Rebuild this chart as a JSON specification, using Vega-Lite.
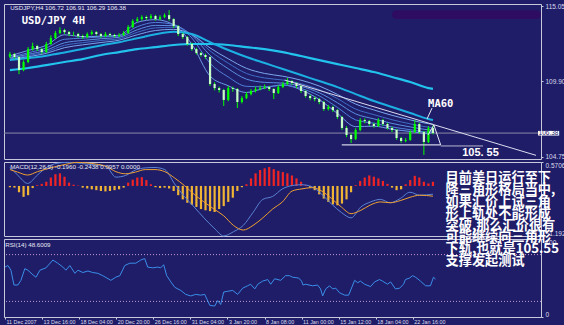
{
"$schema": "https://vega.github.io/schema/vega-lite/v6.json",
"background": "#1f1d68",
"padding": {"left": 2, "top": 2, "right": 0, "bottom": 0},
"spacing": 3,
"bounds": "flush",
"config": {
  "view": {"stroke": "#c8c8dc", "strokeWidth": 1, "fill": null},
  "axis": {"labelColor": "#dcdcec", "labelFont": "Liberation Sans", "labelFontSize": 6.5, "tickColor": "#c8c8dc", "tickSize": 2, "labelPadding": 2, "domain": false, "grid": false, "title": null}
},
"datasets": {
  "c": [
    {"i":0,"o":111.60,"h":111.92,"l":111.50,"c":111.77,"hist":-0.03},
    {"i":2,"o":111.77,"h":111.85,"l":111.45,"c":111.57,"hist":-0.04},
    {"i":4,"o":111.57,"h":111.62,"l":110.40,"c":110.68,"hist":-0.15},
    {"i":6,"o":110.68,"h":111.35,"l":110.60,"c":111.23,"hist":-0.26},
    {"i":8,"o":111.23,"h":112.25,"l":111.15,"c":112.11,"hist":-0.22},
    {"i":10,"o":112.11,"h":112.55,"l":112.00,"c":112.32,"hist":-0.05},
    {"i":12,"o":112.32,"h":112.40,"l":111.98,"c":112.11,"hist":0.02},
    {"i":14,"o":112.11,"h":112.20,"l":111.78,"c":111.91,"hist":0.05},
    {"i":16,"o":111.91,"h":112.60,"l":111.85,"c":112.46,"hist":0.10},
    {"i":18,"o":112.46,"h":113.05,"l":112.40,"c":112.87,"hist":0.20},
    {"i":20,"o":112.87,"h":113.35,"l":112.80,"c":113.21,"hist":0.28},
    {"i":22,"o":113.21,"h":113.60,"l":113.12,"c":113.41,"hist":0.30},
    {"i":24,"o":113.41,"h":113.50,"l":113.15,"c":113.27,"hist":0.22},
    {"i":26,"o":113.27,"h":113.35,"l":113.00,"c":113.14,"hist":0.08},
    {"i":28,"o":113.14,"h":113.30,"l":113.00,"c":113.14,"hist":0.03},
    {"i":30,"o":113.14,"h":113.22,"l":112.88,"c":113.00,"hist":0.01},
    {"i":32,"o":113.00,"h":113.10,"l":112.80,"c":112.93,"hist":-0.04},
    {"i":34,"o":112.93,"h":113.25,"l":112.85,"c":113.14,"hist":-0.06},
    {"i":36,"o":113.14,"h":113.40,"l":113.05,"c":113.27,"hist":-0.08},
    {"i":38,"o":113.27,"h":113.35,"l":113.02,"c":113.14,"hist":-0.10},
    {"i":40,"o":113.14,"h":113.20,"l":112.88,"c":113.00,"hist":-0.12},
    {"i":42,"o":113.00,"h":113.28,"l":112.92,"c":113.14,"hist":-0.13},
    {"i":44,"o":113.14,"h":113.22,"l":112.95,"c":113.07,"hist":-0.12},
    {"i":46,"o":113.07,"h":113.15,"l":112.90,"c":113.00,"hist":-0.10},
    {"i":48,"o":113.00,"h":113.20,"l":112.92,"c":113.07,"hist":-0.08},
    {"i":50,"o":113.07,"h":113.35,"l":113.00,"c":113.21,"hist":-0.04},
    {"i":52,"o":113.21,"h":113.75,"l":113.15,"c":113.62,"hist":0.08},
    {"i":54,"o":113.62,"h":114.15,"l":113.55,"c":114.03,"hist":0.15},
    {"i":56,"o":114.03,"h":114.30,"l":113.95,"c":114.16,"hist":0.20},
    {"i":58,"o":114.16,"h":114.42,"l":114.05,"c":114.30,"hist":0.21},
    {"i":60,"o":114.30,"h":114.40,"l":114.10,"c":114.23,"hist":0.14},
    {"i":62,"o":114.23,"h":114.50,"l":114.15,"c":114.37,"hist":0.04},
    {"i":64,"o":114.37,"h":114.45,"l":114.05,"c":114.16,"hist":-0.03},
    {"i":66,"o":114.16,"h":114.42,"l":114.08,"c":114.30,"hist":-0.05},
    {"i":68,"o":114.30,"h":114.55,"l":114.22,"c":114.43,"hist":-0.04},
    {"i":70,"o":114.43,"h":114.77,"l":114.05,"c":114.16,"hist":-0.06},
    {"i":72,"o":114.16,"h":114.22,"l":113.55,"c":113.68,"hist":-0.12},
    {"i":74,"o":113.68,"h":113.75,"l":113.00,"c":113.14,"hist":-0.22},
    {"i":76,"o":113.14,"h":113.22,"l":112.80,"c":112.93,"hist":-0.32},
    {"i":78,"o":112.93,"h":113.00,"l":112.35,"c":112.46,"hist":-0.40},
    {"i":80,"o":112.46,"h":112.55,"l":112.00,"c":112.11,"hist":-0.45},
    {"i":82,"o":112.11,"h":112.20,"l":111.75,"c":111.84,"hist":-0.50},
    {"i":84,"o":111.84,"h":111.92,"l":111.60,"c":111.71,"hist":-0.55},
    {"i":86,"o":111.71,"h":111.80,"l":111.45,"c":111.57,"hist":-0.58},
    {"i":88,"o":111.57,"h":111.62,"l":109.60,"c":109.73,"hist":-0.60},
    {"i":90,"o":109.73,"h":109.85,"l":109.30,"c":109.45,"hist":-0.62},
    {"i":92,"o":109.45,"h":109.55,"l":109.15,"c":109.32,"hist":-0.55},
    {"i":94,"o":109.32,"h":109.40,"l":108.23,"c":108.64,"hist":-0.48},
    {"i":96,"o":108.64,"h":109.60,"l":108.55,"c":109.45,"hist":-0.38},
    {"i":98,"o":109.45,"h":109.55,"l":109.20,"c":109.39,"hist":-0.28},
    {"i":100,"o":109.39,"h":109.45,"l":108.09,"c":108.50,"hist":-0.12},
    {"i":102,"o":108.50,"h":108.90,"l":108.40,"c":108.77,"hist":-0.03},
    {"i":104,"o":108.77,"h":109.18,"l":108.70,"c":109.04,"hist":0.04},
    {"i":106,"o":109.04,"h":109.38,"l":108.95,"c":109.25,"hist":0.18},
    {"i":108,"o":109.25,"h":109.55,"l":109.15,"c":109.39,"hist":0.30},
    {"i":110,"o":109.39,"h":109.62,"l":109.30,"c":109.45,"hist":0.38},
    {"i":112,"o":109.45,"h":109.70,"l":109.38,"c":109.52,"hist":0.42},
    {"i":114,"o":109.52,"h":109.60,"l":109.25,"c":109.39,"hist":0.45},
    {"i":116,"o":109.39,"h":109.45,"l":108.70,"c":109.11,"hist":0.40},
    {"i":118,"o":109.11,"h":109.65,"l":109.05,"c":109.52,"hist":0.36},
    {"i":120,"o":109.52,"h":109.88,"l":109.45,"c":109.73,"hist":0.33},
    {"i":122,"o":109.73,"h":110.14,"l":109.65,"c":109.93,"hist":0.30},
    {"i":124,"o":109.93,"h":110.00,"l":109.68,"c":109.80,"hist":0.25},
    {"i":126,"o":109.80,"h":109.85,"l":109.45,"c":109.59,"hist":0.18},
    {"i":128,"o":109.59,"h":109.65,"l":109.12,"c":109.25,"hist":0.10},
    {"i":130,"o":109.25,"h":109.30,"l":108.80,"c":108.91,"hist":0.02},
    {"i":132,"o":108.91,"h":109.00,"l":108.62,"c":108.77,"hist":-0.04},
    {"i":134,"o":108.77,"h":108.88,"l":108.55,"c":108.70,"hist":-0.10},
    {"i":136,"o":108.70,"h":108.78,"l":108.35,"c":108.50,"hist":-0.20},
    {"i":138,"o":108.50,"h":108.58,"l":107.90,"c":108.02,"hist":-0.30},
    {"i":140,"o":108.02,"h":108.30,"l":107.92,"c":108.16,"hist":-0.38},
    {"i":142,"o":108.16,"h":108.25,"l":107.82,"c":107.95,"hist":-0.44},
    {"i":144,"o":107.95,"h":108.02,"l":107.35,"c":107.48,"hist":-0.46},
    {"i":146,"o":107.48,"h":107.55,"l":106.60,"c":106.73,"hist":-0.42},
    {"i":148,"o":106.73,"h":106.85,"l":106.10,"c":106.25,"hist":-0.32},
    {"i":150,"o":106.25,"h":106.35,"l":105.70,"c":105.97,"hist":-0.15},
    {"i":152,"o":105.97,"h":106.72,"l":105.90,"c":106.59,"hist":0.02},
    {"i":154,"o":106.59,"h":107.40,"l":106.50,"c":107.27,"hist":0.12},
    {"i":156,"o":107.27,"h":107.38,"l":107.05,"c":107.20,"hist":0.20},
    {"i":158,"o":107.20,"h":107.28,"l":106.88,"c":107.00,"hist":0.25},
    {"i":160,"o":107.00,"h":107.10,"l":106.75,"c":106.86,"hist":0.22},
    {"i":162,"o":106.86,"h":107.40,"l":106.80,"c":107.27,"hist":0.18},
    {"i":164,"o":107.27,"h":107.35,"l":106.88,"c":107.00,"hist":0.12},
    {"i":166,"o":107.00,"h":107.08,"l":106.62,"c":106.73,"hist":0.05},
    {"i":168,"o":106.73,"h":106.82,"l":106.45,"c":106.59,"hist":-0.04},
    {"i":170,"o":106.59,"h":106.65,"l":105.92,"c":106.04,"hist":-0.10},
    {"i":172,"o":106.04,"h":106.12,"l":105.72,"c":105.84,"hist":-0.08},
    {"i":174,"o":105.84,"h":106.05,"l":105.75,"c":105.91,"hist":0.04},
    {"i":176,"o":105.91,"h":106.58,"l":105.85,"c":106.45,"hist":0.14},
    {"i":178,"o":106.45,"h":107.27,"l":106.38,"c":107.00,"hist":0.24},
    {"i":180,"o":107.00,"h":107.08,"l":106.32,"c":106.45,"hist":0.20},
    {"i":182,"o":106.45,"h":106.52,"l":104.89,"c":105.77,"hist":0.10},
    {"i":184,"o":105.77,"h":106.85,"l":105.70,"c":106.72,"hist":0.06},
    {"i":186,"o":106.72,"h":106.91,"l":106.29,"c":106.38,"hist":0.10}
  ],
  "ma": [
    {"i":0,"m1":111.65,"m2":111.55,"m3":111.50,"m4":111.45,"m5":111.40,"m60":111.36,"m200":110.68},
    {"i":8,"m1":112.02,"m2":111.86,"m3":111.75,"m4":111.67,"m5":111.59,"m60":111.50,"m200":110.82},
    {"i":16,"m1":112.37,"m2":112.19,"m3":112.04,"m4":111.93,"m5":111.82,"m60":111.66,"m200":111.02},
    {"i":24,"m1":113.09,"m2":112.78,"m3":112.54,"m4":112.37,"m5":112.21,"m60":111.88,"m200":111.23},
    {"i":32,"m1":112.96,"m2":112.86,"m3":112.70,"m4":112.55,"m5":112.40,"m60":112.12,"m200":111.43},
    {"i":40,"m1":112.99,"m2":112.94,"m3":112.82,"m4":112.70,"m5":112.56,"m60":112.36,"m200":111.71},
    {"i":48,"m1":113.05,"m2":113.01,"m3":112.92,"m4":112.82,"m5":112.72,"m60":112.58,"m200":111.91},
    {"i":56,"m1":113.94,"m2":113.64,"m3":113.43,"m4":113.26,"m5":113.09,"m60":112.85,"m200":112.11},
    {"i":64,"m1":114.12,"m2":113.93,"m3":113.73,"m4":113.56,"m5":113.38,"m60":113.12,"m200":112.25},
    {"i":72,"m1":113.77,"m2":113.79,"m3":113.71,"m4":113.60,"m5":113.46,"m60":113.30,"m200":112.39},
    {"i":80,"m1":112.44,"m2":112.87,"m3":113.05,"m4":113.11,"m5":113.10,"m60":113.14,"m200":112.46},
    {"i":88,"m1":110.27,"m2":111.14,"m3":111.69,"m4":111.99,"m5":112.19,"m60":112.59,"m200":112.46},
    {"i":96,"m1":109.61,"m2":110.21,"m3":110.77,"m4":111.15,"m5":111.45,"m60":112.05,"m200":112.39},
    {"i":104,"m1":109.15,"m2":109.57,"m3":110.06,"m4":110.45,"m5":110.80,"m60":111.57,"m200":112.25},
    {"i":112,"m1":109.45,"m2":109.54,"m3":109.84,"m4":110.14,"m5":110.45,"m60":111.16,"m200":112.11},
    {"i":120,"m1":109.67,"m2":109.64,"m3":109.79,"m4":110.00,"m5":110.26,"m60":110.75,"m200":111.91},
    {"i":128,"m1":109.33,"m2":109.43,"m3":109.57,"m4":109.75,"m5":109.99,"m60":110.34,"m200":111.64},
    {"i":136,"m1":108.67,"m2":108.92,"m3":109.13,"m4":109.34,"m5":109.59,"m60":109.93,"m200":111.36},
    {"i":144,"m1":107.72,"m2":108.13,"m3":108.45,"m4":108.73,"m5":109.02,"m60":109.52,"m200":111.09},
    {"i":152,"m1":106.82,"m2":107.28,"m3":107.69,"m4":108.02,"m5":108.36,"m60":109.04,"m200":110.82},
    {"i":160,"m1":106.85,"m2":107.05,"m3":107.35,"m4":107.64,"m5":107.96,"m60":108.57,"m200":110.55},
    {"i":168,"m1":106.64,"m2":106.80,"m3":107.04,"m4":107.29,"m5":107.59,"m60":108.16,"m200":110.21},
    {"i":176,"m1":106.49,"m2":106.61,"m3":106.80,"m4":107.01,"m5":107.28,"m60":107.75,"m200":109.87},
    {"i":184,"m1":106.35,"m2":106.45,"m3":106.60,"m4":106.78,"m5":107.02,"m60":107.34,"m200":109.45},
    {"i":186,"m1":106.45,"m2":106.47,"m3":106.58,"m4":106.75,"m5":106.98,"m60":107.27,"m200":109.40}
  ],
  "macd": [
    {"i":0,"m":0.44,"s":0.39},{"i":3.4,"m":0.26,"s":0.33},{"i":7.8,"m":0.06,"s":0.26},{"i":12.1,"m":0.26,"s":0.34},
    {"i":16.4,"m":0.45,"s":0.41},{"i":20.7,"m":0.54,"s":0.47},{"i":25,"m":0.56,"s":0.52},{"i":29.3,"m":0.55,"s":0.56},
    {"i":33.6,"m":0.52,"s":0.55},{"i":37.9,"m":0.50,"s":0.52},{"i":42.2,"m":0.47,"s":0.47},{"i":46.6,"m":0.21,"s":0.34},
    {"i":50.9,"m":0.25,"s":0.29},{"i":55.2,"m":0.38,"s":0.33},{"i":59.5,"m":0.43,"s":0.39},{"i":63.8,"m":0.44,"s":0.39},
    {"i":68.1,"m":0.39,"s":0.34},{"i":72.4,"m":0.05,"s":0.19},{"i":76.7,"m":-0.25,"s":0.01},{"i":81,"m":-0.50,"s":-0.20},
    {"i":85.3,"m":-0.76,"s":-0.38},{"i":89.7,"m":-1.00,"s":-0.55},{"i":94,"m":-1.19,"s":-0.71},{"i":98.3,"m":-1.09,"s":-0.94},
    {"i":102.6,"m":-0.94,"s":-1.05},{"i":106.9,"m":-0.63,"s":-0.94},{"i":111.2,"m":-0.32,"s":-0.76},{"i":115.5,"m":-0.25,"s":-0.55},
    {"i":119.8,"m":-0.07,"s":-0.38},{"i":124.1,"m":0.01,"s":-0.12},{"i":128.4,"m":0.03,"s":-0.07},{"i":132.8,"m":-0.02,"s":-0.04},
    {"i":137.1,"m":-0.20,"s":-0.12},{"i":141.4,"m":-0.43,"s":-0.30},{"i":145.7,"m":-0.63,"s":-0.50},{"i":150,"m":-0.76,"s":-0.66},
    {"i":154.3,"m":-0.50,"s":-0.58},{"i":158.6,"m":-0.38,"s":-0.45},{"i":162.9,"m":-0.32,"s":-0.38},{"i":167.2,"m":-0.40,"s":-0.40},
    {"i":171.6,"m":-0.30,"s":-0.35},{"i":175.9,"m":-0.15,"s":-0.27},{"i":180.2,"m":-0.22,"s":-0.22},{"i":186,"m":-0.196,"s":-0.244}
  ],
  "rsi": [
    {"i":0,"r":64},{"i":1.3,"r":66},{"i":2.6,"r":60},{"i":3.9,"r":41},{"i":5.6,"r":41},{"i":6.9,"r":47},{"i":8.6,"r":62},{"i":9.9,"r":60},
    {"i":12.1,"r":54},{"i":13.4,"r":51},{"i":15.1,"r":60},{"i":17.7,"r":63},{"i":20.7,"r":73},{"i":22.8,"r":69},{"i":25,"r":64},{"i":26.3,"r":60},
    {"i":28,"r":66},{"i":30.2,"r":56},{"i":31.5,"r":60},{"i":33.6,"r":57},{"i":35.8,"r":59},{"i":37.9,"r":57},{"i":40.1,"r":56},{"i":42.2,"r":53},
    {"i":45.7,"r":47},{"i":47.8,"r":51},{"i":49.6,"r":53},{"i":51.7,"r":66},{"i":53.9,"r":69},{"i":56.5,"r":69},{"i":58.6,"r":73},{"i":60.3,"r":75},
    {"i":61.6,"r":64},{"i":63.8,"r":63},{"i":65.9,"r":64},{"i":67.2,"r":63},{"i":68.5,"r":67},{"i":69.8,"r":53},{"i":71.6,"r":45},{"i":73.3,"r":38},
    {"i":75.9,"r":34},{"i":78,"r":29},{"i":80.2,"r":27},{"i":82.3,"r":29},{"i":84.5,"r":28},{"i":86.2,"r":29},{"i":88.4,"r":15},{"i":90.5,"r":14},
    {"i":91.8,"r":21},{"i":93.1,"r":16},{"i":94.4,"r":32},{"i":96.1,"r":33},{"i":98.3,"r":34},{"i":100.4,"r":29},{"i":102.6,"r":37},{"i":104.7,"r":40},
    {"i":106,"r":42},{"i":107.8,"r":36},{"i":109.1,"r":42},{"i":111.2,"r":46},{"i":113.4,"r":48},{"i":114.7,"r":42},{"i":116.4,"r":49},{"i":119,"r":47},
    {"i":121.1,"r":53},{"i":122.8,"r":53},{"i":124.1,"r":51},{"i":126.7,"r":50},{"i":128,"r":46},{"i":128.6,"r":41},{"i":129.7,"r":42},{"i":132.8,"r":40},
    {"i":134.9,"r":41},{"i":136.2,"r":36},{"i":137.1,"r":27},{"i":138.4,"r":36},{"i":140.1,"r":40},{"i":141.4,"r":36},{"i":142.7,"r":37},{"i":144.4,"r":31},
    {"i":146.6,"r":28},{"i":148.3,"r":28},{"i":150.9,"r":47},{"i":152.2,"r":44},{"i":153.4,"r":46},{"i":155.2,"r":42},{"i":157.8,"r":39},{"i":159.5,"r":45},
    {"i":161.6,"r":48},{"i":162.9,"r":46},{"i":165.1,"r":42},{"i":166.4,"r":45},{"i":168.5,"r":36},{"i":170.3,"r":37},{"i":172,"r":42},{"i":172.8,"r":48},
    {"i":174.6,"r":50},{"i":175.9,"r":53},{"i":177.2,"r":51},{"i":179.3,"r":46},{"i":181.5,"r":40},{"i":183.6,"r":40},{"i":184.9,"r":51},{"i":185.8,"r":48.6}
  ],
  "tri": [{"i":120.8,"p":110.00},{"i":231.3,"p":104.86}],
  "low1": [{"i":145.9,"p":105.57},{"i":189.4,"p":105.57}],
  "low2": [{"i":189.4,"p":105.50},{"i":208,"p":105.50}],
  "zig": [{"k":0,"i":183.8,"p":106.25},{"k":1,"i":186.4,"p":106.93},{"k":2,"i":189.4,"p":105.57}],
  "ptr": [{"i":185.6,"p":108.09},{"i":183.4,"p":107.34}]
},
"vconcat": [
  {
    "width": 537, "height": 155,
    "layer": [
      {"data": {"values": [{}]}, "mark": {"type": "rule", "color": "#8a8aa6", "strokeWidth": 1},
       "encoding": {"y": {"datum": 106.38, "type": "quantitative", "scale": {"domain": [104.61, 115.19], "nice": false, "zero": false},
         "axis": {"orient": "right", "values": [104.75, 106.0, 107.3, 108.6, 109.9, 111.15, 112.45, 113.75, 115.05], "format": ".2f"}}}},
      {"data": {"name": "ma"}, "transform": [{"fold": ["m1", "m2", "m3", "m4", "m5"], "as": ["k", "v"]}],
       "mark": {"type": "line", "strokeWidth": 1, "interpolate": "monotone"},
       "encoding": {"x": {"field": "i", "type": "quantitative", "scale": {"domain": [-0.4, 231.3], "nice": false, "zero": false}, "axis": null},
         "y": {"field": "v", "type": "quantitative"},
         "color": {"field": "k", "type": "nominal", "legend": null, "scale": {"range": ["#6f9be8", "#4f80d8", "#5b8fe0", "#3f6cc4", "#7aa6ec"]}}}},
      {"data": {"name": "ma"}, "mark": {"type": "line", "strokeWidth": 2.2, "color": "#22c4ee", "interpolate": "monotone"},
       "encoding": {"x": {"field": "i", "type": "quantitative"}, "y": {"field": "m200", "type": "quantitative"}}},
      {"data": {"name": "ma"}, "mark": {"type": "line", "strokeWidth": 2, "color": "#1cb0e2", "interpolate": "monotone"},
       "encoding": {"x": {"field": "i", "type": "quantitative"}, "y": {"field": "m60", "type": "quantitative"}}},
      {"data": {"name": "c"}, "mark": {"type": "rule", "color": "#00ff00", "strokeWidth": 1},
       "encoding": {"x": {"field": "i", "type": "quantitative"}, "y": {"field": "l", "type": "quantitative"}, "y2": {"field": "h"}}},
      {"data": {"name": "c"}, "mark": {"type": "bar", "width": 2.2},
       "encoding": {"x": {"field": "i", "type": "quantitative"}, "y": {"field": "o", "type": "quantitative"}, "y2": {"field": "c"},
         "color": {"condition": {"test": "datum.c >= datum.o", "value": "#00ff00"}, "value": "#c8ffc8"}}},
      {"data": {"name": "tri"}, "mark": {"type": "line", "color": "#dcdcf0", "strokeWidth": 1},
       "encoding": {"x": {"field": "i", "type": "quantitative"}, "y": {"field": "p", "type": "quantitative"}}},
      {"data": {"name": "low1"}, "mark": {"type": "line", "color": "#d0d0e4", "strokeWidth": 1.2},
       "encoding": {"x": {"field": "i", "type": "quantitative"}, "y": {"field": "p", "type": "quantitative"}}},
      {"data": {"name": "low2"}, "mark": {"type": "line", "color": "#b8b8d0", "strokeWidth": 1},
       "encoding": {"x": {"field": "i", "type": "quantitative"}, "y": {"field": "p", "type": "quantitative"}}},
      {"data": {"name": "zig"}, "mark": {"type": "line", "color": "#e8e8f8", "strokeWidth": 1},
       "encoding": {"x": {"field": "i", "type": "quantitative"}, "y": {"field": "p", "type": "quantitative"}, "order": {"field": "k"}}},
      {"data": {"name": "ptr"}, "mark": {"type": "line", "color": "#e8e8f8", "strokeWidth": 1},
       "encoding": {"x": {"field": "i", "type": "quantitative"}, "y": {"field": "p", "type": "quantitative"}}},
      {"data": {"values": [{}]}, "mark": {"type": "rect", "fill": "#2d0c62", "cornerRadius": 4, "clip": false},
       "encoding": {"x": {"datum": 168}, "x2": {"datum": 233.5}, "y": {"datum": 114.77}, "y2": {"datum": 114.16}}},
      {"data": {"values": [{}]}, "mark": {"type": "text", "text": "USDJPY,H4  106.72 106.91 106.29 106.38", "font": "Liberation Sans", "fontSize": 6.2, "color": "#e8e8f4", "align": "left", "baseline": "middle"},
       "encoding": {"x": {"datum": 0.1}, "y": {"datum": 114.95}}},
      {"data": {"values": [{}]}, "mark": {"type": "text", "text": "USD/JPY 4H", "font": "DejaVu Sans Mono", "fontWeight": "bold", "fontSize": 10.5, "color": "#ffffff", "align": "left", "baseline": "middle"},
       "encoding": {"x": {"datum": 5.2}, "y": {"datum": 114.02}}},
      {"data": {"values": [{}]}, "mark": {"type": "text", "text": "MA60", "font": "DejaVu Sans Mono", "fontWeight": "bold", "fontSize": 10.5, "color": "#ffffff", "align": "center", "baseline": "middle"},
       "encoding": {"x": {"datum": 189.4}, "y": {"datum": 108.36}}},
      {"data": {"values": [{}]}, "mark": {"type": "text", "text": "105. 55", "font": "Liberation Sans", "fontWeight": "bold", "fontSize": 11, "color": "#ffffff", "align": "center", "baseline": "middle"},
       "encoding": {"x": {"datum": 206.9}, "y": {"datum": 104.99}}},
      {"data": {"values": [{}]}, "mark": {"type": "rect", "fill": "#ffffff", "clip": false},
       "encoding": {"x": {"datum": 232.2}, "x2": {"datum": 241.5}, "y": {"datum": 106.53}, "y2": {"datum": 106.21}}},
      {"data": {"values": [{}]}, "mark": {"type": "text", "text": "106.38", "font": "Liberation Sans", "fontSize": 6.5, "color": "#1f1d68", "align": "center", "baseline": "middle", "clip": false},
       "encoding": {"x": {"datum": 236.8}, "y": {"datum": 106.37}}}
    ]
  },
  {
    "width": 537, "height": 74,
    "layer": [
      {"data": {"name": "c"}, "mark": {"type": "bar", "width": 2.2},
       "encoding": {"x": {"field": "i", "type": "quantitative", "scale": {"domain": [-0.4, 231.3], "nice": false, "zero": false}, "axis": null},
         "y": {"field": "hist", "type": "quantitative", "scale": {"domain": [-1.1921, 0.5706], "nice": false, "zero": false},
           "axis": {"orient": "right", "values": [-1.1921, 0, 0.5706], "labelFlush": true, "labelExpr": "datum.value == 0 ? '0.00' : format(datum.value, '.4f')"}},
         "y2": {"datum": 0},
         "color": {"condition": {"test": "datum.hist > 0", "value": "#f02424"}, "value": "#f0b434"}}},
      {"data": {"name": "macd"}, "mark": {"type": "line", "color": "#5a82d4", "strokeWidth": 1, "interpolate": "monotone"},
       "encoding": {"x": {"field": "i", "type": "quantitative"}, "y": {"field": "m", "type": "quantitative"}}},
      {"data": {"name": "macd"}, "mark": {"type": "line", "color": "#f0a030", "strokeWidth": 1, "interpolate": "monotone"},
       "encoding": {"x": {"field": "i", "type": "quantitative"}, "y": {"field": "s", "type": "quantitative"}}},
      {"data": {"values": [{}]}, "mark": {"type": "text", "text": "MACD(12,26,9) -0.1960 -0.2438 0.0957 0.0000", "font": "Liberation Sans", "fontSize": 6.2, "color": "#e8e8f4", "align": "left", "baseline": "middle"},
       "encoding": {"x": {"datum": 0.1}, "y": {"datum": 0.45}}}
    ]
  },
  {
    "width": 537, "height": 78,
    "layer": [
      {"data": {"values": [{"v": 20}, {"v": 80}]}, "mark": {"type": "rule", "color": "#c49ad0", "strokeWidth": 1, "strokeDash": [1, 2]},
       "encoding": {"y": {"field": "v", "type": "quantitative", "scale": {"domain": [0, 100], "nice": false, "zero": false},
         "axis": {"orient": "right", "values": [0, 20, 80, 100], "labelFlush": true, "format": "d"}}}},
      {"data": {"name": "rsi"}, "mark": {"type": "line", "color": "#3a8eea", "strokeWidth": 1},
       "encoding": {"x": {"field": "i", "type": "quantitative", "scale": {"domain": [-0.4, 231.3], "nice": false, "zero": false},
         "axis": {"orient": "bottom", "values": [0, 16, 32, 48, 64, 80, 96, 112, 128, 144, 160, 176], "labelAlign": "left", "tickSize": 2, "labelPadding": 0, "labelOverlap": false, "labelFontSize": 5.4, "labelOffset": 1,
           "labelExpr": "['11 Dec 2007','13 Dec 16:00','18 Dec 04:00','20 Dec 20:00','26 Dec 16:00','31 Dec 04:00','3 Jan 20:00','8 Jan 08:00','11 Jan 00:00','15 Jan 12:00','18 Jan 04:00','22 Jan 16:00'][round(datum.value/16)]"}},
         "y": {"field": "r", "type": "quantitative"}}},
      {"data": {"values": [{}]}, "mark": {"type": "text", "text": "RSI(14) 48.6009", "font": "Liberation Sans", "fontSize": 6.2, "color": "#e8e8f4", "align": "left", "baseline": "middle"},
       "encoding": {"x": {"datum": 0.1}, "y": {"datum": 92.3}}},
      {"data": {"values": [{}]}, "mark": {"type": "text", "text": ["目前美日运行至下", "降三角形格局当中,", "如果汇价上试三角", "形上轨处不能形成", "突破,那么汇价很有", "可能继续向三角形", "下轨,也就是105.55", "支撑发起测试"],
         "font": "Noto Sans CJK SC", "fontWeight": "bold", "fontSize": 13.2, "lineHeight": 11.8, "color": "#ffffff", "align": "left", "baseline": "top", "clip": false},
       "encoding": {"x": {"datum": 190.1}, "y": {"datum": 185.4}}}
    ]
  }
]
}
